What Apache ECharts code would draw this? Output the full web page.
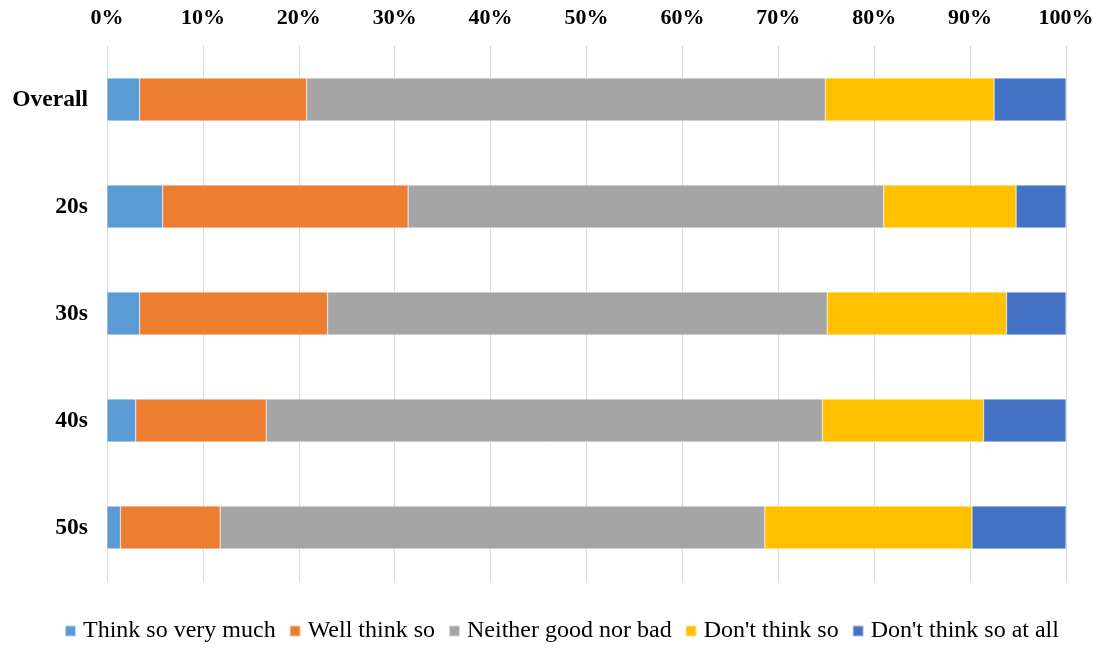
<!DOCTYPE html>
<html>
<head>
<meta charset="utf-8">
<script src="https://cdn.jsdelivr.net/npm/echarts@6/dist/echarts.min.js"></script>
<style>html,body{margin:0;padding:0;background:#fff}#c{width:1099px;height:648px}</style>
</head>
<body>
<div id="c"></div>
<script>
const categories = ['Overall', '20s', '30s', '40s', '50s'];
const seriesNames = ['Think so very much', 'Well think so', 'Neither good nor bad', "Don't think so", "Don't think so at all"];
const thinkSoVeryMuch = [3.4, 5.8, 3.4, 3.0, 1.4];
const wellThinkSo = [17.4, 25.6, 19.6, 13.6, 10.4];
const neither = [54.1, 49.6, 52.1, 58.0, 56.8];
const dontThinkSo = [17.6, 13.8, 18.7, 16.8, 21.6];
const dontThinkSoAtAll = [7.5, 5.2, 6.2, 8.6, 9.8];
const colors = ['#5B9BD5', '#ED7D31', '#A5A5A5', '#FFC000', '#4472C4'];
const values = [thinkSoVeryMuch, wellThinkSo, neither, dontThinkSo, dontThinkSoAtAll];

const chart = echarts.init(document.getElementById('c'));
chart.setOption({
  animation: false,
  textStyle: { fontFamily: 'Liberation Serif' },
  grid: { left: 107, right: 33, top: 46, bottom: 67, containLabel: false },
  legend: {
    bottom: 0,
    left: 59,
    itemWidth: 11,
    itemHeight: 11,
    itemGap: 13,
    icon: 'rect',
    textStyle: { fontFamily: 'Liberation Serif', fontSize: 24, color: '#000', padding: [0, 0, 0, 2] },
    data: seriesNames
  },
  xAxis: {
    type: 'value',
    position: 'top',
    min: 0,
    max: 100,
    interval: 10,
    axisLabel: { formatter: '{value}%', fontFamily: 'Liberation Serif', fontWeight: 'bold', fontSize: 22, color: '#000', margin: 17 },
    axisLine: { show: false },
    axisTick: { show: false },
    splitLine: { show: true, lineStyle: { color: '#d9d9d9', width: 1 } }
  },
  yAxis: {
    type: 'category',
    inverse: true,
    data: categories,
    axisLabel: { fontFamily: 'Liberation Serif', fontWeight: 'bold', fontSize: 23.5, color: '#000', margin: 19 },
    axisLine: { show: true, lineStyle: { color: '#d9d9d9' } },
    axisTick: { show: false }
  },
  series: values.map((v, i) => ({
    name: seriesNames[i],
    type: 'bar',
    stack: 'total',
    barWidth: '40%',
    data: v,
    itemStyle: { color: colors[i], borderColor: 'rgba(255,255,255,0.6)', borderWidth: 0.5 }
  }))
});
</script>
</body>
</html>
